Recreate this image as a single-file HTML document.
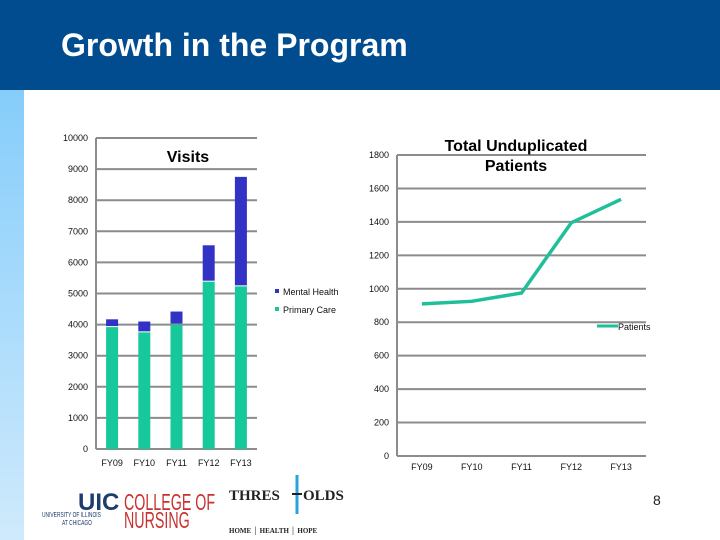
<!DOCTYPE html>
<html><head><meta charset="utf-8"><style>
body{margin:0;width:720px;height:540px;overflow:hidden;background:#fff;font-family:"Liberation Sans",sans-serif;position:relative}
#hdr{position:absolute;left:0;top:0;width:720px;height:90px;background:#004c8f}
#title{position:absolute;left:61px;top:27px;color:#fff;font-weight:bold;font-size:32px}
#strip{position:absolute;left:0;top:90px;width:24px;height:450px;background:linear-gradient(#86cdfb,#cfeafc)}
svg{position:absolute;left:0;top:0}
</style></head><body>
<div id="hdr"></div>
<div id="title">Growth in the Program</div>
<div id="strip"></div>
<svg id="s" width="720" height="540" font-family="Liberation Sans, sans-serif">
<g id="visits"></g>
<g id="patients"></g>
<g>
<text x="78" y="510" font-size="24" font-weight="bold" fill="#1d3d6e">UIC</text>
<g transform="translate(124,510) scale(0.62,1)"><text x="0" y="0" font-size="23" fill="#c8312f">COLLEGE OF</text></g>
<g transform="translate(124,528) scale(0.62,1)"><text x="0" y="0" font-size="23" fill="#c8312f">NURSING</text></g>
<g transform="translate(42,517) scale(0.7,1)"><text x="0" y="0" font-size="7" fill="#1d3d6e">UNIVERSITY OF ILLINOIS</text></g>
<g transform="translate(62,525) scale(0.7,1)"><text x="0" y="0" font-size="7" fill="#1d3d6e">AT CHICAGO</text></g>
<text x="229" y="500" font-size="15" font-weight="bold" font-family="Liberation Serif, serif" fill="#222">THRES</text>
<text x="303" y="500" font-size="15" font-weight="bold" font-family="Liberation Serif, serif" fill="#222">OLDS</text>
<line x1="297" y1="475" x2="297" y2="514" stroke="#29a3dc" stroke-width="3"/>
<line x1="292" y1="494" x2="302" y2="494" stroke="#222" stroke-width="2"/>
<text x="229" y="533" font-size="7" font-weight="bold" font-family="Liberation Serif, serif" fill="#222">HOME  │  HEALTH  │  HOPE</text>
<text x="653" y="505" font-size="14" fill="#222">8</text>
</g>
</svg>
<script>
const cats=["FY09","FY10","FY11","FY12","FY13"];
const primaryCare=[3920,3750,4000,5380,5230];
const mentalHealth=[250,350,420,1170,3520];
const visitTicks=[0,1000,2000,3000,4000,5000,6000,7000,8000,9000,10000];
const patients=[910,925,975,1395,1535];
const patientTicks=[0,200,400,600,800,1000,1200,1400,1600,1800];
const NS="http://www.w3.org/2000/svg";
function mk(p,t,a,txt){const e=document.createElementNS(NS,t);for(const k in a)e.setAttribute(k,a[k]);if(txt!==undefined)e.textContent=txt;p.appendChild(e);return e;}
const gv=document.getElementById('visits');
const vx0=96,vx1=257,vy0=449,vy1=138;
const vy=v=>vy0-(v/10000)*(vy0-vy1);
const vbw=(vx1-vx0)/cats.length;
const vxc=i=>vx0+vbw*(i+0.5);
visitTicks.forEach(t=>{
 const l=mk(gv,'line',{x1:vx0,x2:vx1,y1:vy(t),y2:vy(t),stroke:'#8c8c8c','stroke-width':2});
 
 
 const tx=mk(gv,'text',{x:vx0-8,y:vy(t)+3,'font-size':9,'text-anchor':'end',fill:'#111'},t);
 
 
});
mk(gv,'line',{x1:vx0,x2:vx0,y1:vy1,y2:vy0,stroke:'#8c8c8c','stroke-width':2});
cats.forEach((c,i)=>{
 const w=12,x=vxc(i)-w/2;
 const r1=mk(gv,'rect',{x:x,y:vy(primaryCare[i]),width:w,height:vy0-vy(primaryCare[i]),fill:'#17c99a'});
 
 
 const top=primaryCare[i]+mentalHealth[i];
 const r2=mk(gv,'rect',{x:x,y:vy(top),width:w,height:vy(primaryCare[i])-vy(top)-1,fill:'#3232c4'});
 
 
 const tx=mk(gv,'text',{x:vxc(i),y:466,'font-size':9,'text-anchor':'middle',fill:'#111'},c);
 
 
});
const vt=mk(gv,'text',{x:188,y:162,'font-size':16,'font-weight':'bold','text-anchor':'middle',fill:'#000'},'Visits');


const lg1=mk(gv,'rect',{x:275,y:289,width:4,height:4,fill:'#3232c4'});


const lt1=mk(gv,'text',{x:283,y:295,'font-size':9,fill:'#111'},'Mental Health');


const lg2=mk(gv,'rect',{x:275,y:307,width:4,height:4,fill:'#17c99a'});


const lt2=mk(gv,'text',{x:283,y:313,'font-size':9,fill:'#111'},'Primary Care');


const gp=document.getElementById('patients');
const px0=397,px1=646,py0=456,py1=155;
const py=v=>py0-(v/1800)*(py0-py1);
const pbw=(px1-px0)/cats.length;
const pxc=i=>px0+pbw*(i+0.5);
patientTicks.forEach(t=>{
 const l=mk(gp,'line',{x1:px0,x2:px1,y1:py(t),y2:py(t),stroke:'#8c8c8c','stroke-width':2});
 
 
 const tx=mk(gp,'text',{x:px0-8,y:py(t)+3,'font-size':9,'text-anchor':'end',fill:'#111'},t);
 
 
});
mk(gp,'line',{x1:px0,x2:px0,y1:py1,y2:py0,stroke:'#8c8c8c','stroke-width':2});
cats.forEach((c,i)=>{
 const tx=mk(gp,'text',{x:pxc(i),y:470,'font-size':9,'text-anchor':'middle',fill:'#111'},c);
 
 
});
const pl=mk(gp,'polyline',{points:patients.map((v,i)=>pxc(i)+','+py(v)).join(' '),fill:'none',stroke:'#1fbf9a','stroke-width':3.5});


const pt1=mk(gp,'text',{x:516,y:151,'font-size':16,'font-weight':'bold','text-anchor':'middle',fill:'#000'},'Total Unduplicated');


const pt2=mk(gp,'text',{x:516,y:171,'font-size':16,'font-weight':'bold','text-anchor':'middle',fill:'#000'},'Patients');


const ll=mk(gp,'line',{x1:597,x2:618,y1:326,y2:326,stroke:'#1fbf9a','stroke-width':3});


const lt3=mk(gp,'text',{x:618,y:330,'font-size':9,fill:'#111'},'Patients');


</script>
</body></html>
